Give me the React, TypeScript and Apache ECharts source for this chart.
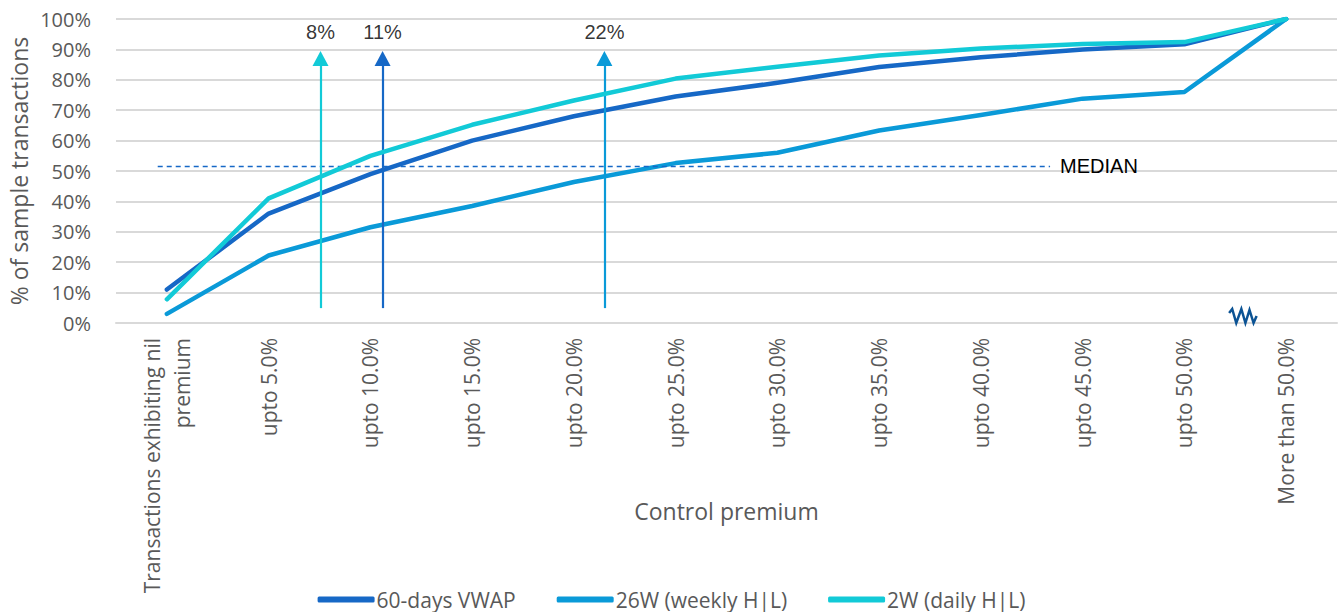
import React, { useEffect, useRef } from "react";
import * as echarts from "echarts";

const categories = [
  "Transactions exhibiting nil\npremium",
  "upto 5.0%",
  "upto 10.0%",
  "upto 15.0%",
  "upto 20.0%",
  "upto 25.0%",
  "upto 30.0%",
  "upto 35.0%",
  "upto 40.0%",
  "upto 45.0%",
  "upto 50.0%",
  "More than 50.0%",
];

const vwap60 = [11, 36, 49, 60, 68, 74.5, 79, 84.2, 87.4, 90, 91.7, 100];
const weekly26 = [3, 22.2, 31.5, 38.5, 46.4, 52.6, 56, 63.3, 68.4, 73.8, 76, 100];
const daily2 = [7.8, 41, 55, 65.2, 73.2, 80.4, 84.3, 88, 90.3, 91.8, 92.4, 100];

const seriesNames = ["60-days VWAP", "26W (weekly H|L)", "2W (daily H|L)"];
const colors = ["#1668C6", "#0A9AD8", "#12CAD7"];

// arrows: position on category scale (index units), label text
const arrowX = [1.51, 2.12, 4.3];
const arrowLabels = ["8%", "11%", "22%"];
const arrowColors = ["#12CAD7", "#1668C6", "#0A9AD8"];
const arrowBottom = 4.9;
const arrowTop = 87;
const arrowLabelY = 95.7;

const medianValue = 51.5;
const medianStart = -0.09;
const medianEnd = 8.68;

// axis-break squiggle decoration (index units, %)
const squiggleX = [10.44, 10.47, 10.51, 10.56, 10.6, 10.64, 10.68, 10.71];
const squiggleY = [3.3, 4.6, 0, 4.6, 0, 4.3, 0, 2.3];

const yTicks = [0, 10, 20, 30, 40, 50, 60, 70, 80, 90, 100];

export default function App() {
  const ref = useRef<HTMLDivElement>(null);
  useEffect(() => {
    document.body.style.margin = "0";
    const chart = echarts.init(ref.current!, undefined, { renderer: "svg" });
    const gray = "#595959";
    const font = "'Open Sans', sans-serif";
    const lineSeries = [vwap60, weekly26, daily2].map((d, i) => ({
      name: seriesNames[i],
      type: "line",
      data: d,
      symbol: "none",
      lineStyle: { color: colors[i], width: 4.5, cap: "round", join: "round" },
      itemStyle: { color: colors[i] },
      z: 3 + i,
    }));
    const arrowSeries = arrowX.map((x, i) => ({
      type: "line",
      xAxisIndex: 1,
      data: [],
      symbol: "none",
      z: 10,
      markLine: {
        silent: true,
        symbol: ["none", "triangle"],
        symbolSize: [16, 15],
        label: { show: false },
        lineStyle: { color: arrowColors[i], width: 2.2, type: "solid" },
        data: [[{ coord: [x, arrowBottom] }, { coord: [x, arrowTop] }]],
      },
    }));
    const arrowText = {
      type: "scatter",
      xAxisIndex: 1,
      symbolSize: 0,
      silent: true,
      z: 11,
      data: arrowX.map((x, i) => ({ value: [x, arrowLabelY], name: arrowLabels[i] })),
      label: {
        show: true,
        position: "inside",
        formatter: (p: any) => p.name,
        color: "#000",
        fontSize: 20,
        fontFamily: "'Liberation Sans', Arial, sans-serif",
      },
    };
    const medianSeries = {
      type: "line",
      xAxisIndex: 1,
      data: [],
      symbol: "none",
      z: 2,
      markLine: {
        silent: true,
        symbol: ["none", "none"],
        lineStyle: { color: "#1668C6", width: 1.3, type: [5, 4] },
        label: {
          show: true,
          position: "end",
          formatter: "MEDIAN",
          color: "#000",
          fontSize: 20,
          distance: 10,
          fontFamily: "'Liberation Sans', Arial, sans-serif",
        },
        data: [[{ coord: [medianStart, medianValue] }, { coord: [medianEnd, medianValue] }]],
      },
    };
    const squiggle = {
      type: "line",
      xAxisIndex: 1,
      data: squiggleX.map((x, i) => [x, squiggleY[i]]),
      symbol: "none",
      silent: true,
      clip: false,
      z: 6,
      lineStyle: { color: "#0B5394", width: 2.5, join: "miter" },
    };
    chart.setOption({
      animation: false,
      textStyle: { fontFamily: font },
      grid: { left: 116, right: 6, top: 19, bottom: 289, containLabel: false, outerBoundsMode: "none" },
      legend: {
        data: seriesNames,
        bottom: -3,
        left: "center",
        icon: "roundRect",
        itemWidth: 57,
        itemHeight: 6,
        itemGap: 41,
        textStyle: { color: gray, fontSize: 21, fontFamily: font, padding: [0, 0, 0, -3] },
      },
      xAxis: [
        {
          type: "category",
          data: categories,
          boundaryGap: true,
          axisLine: { show: true, lineStyle: { color: "#D9D9D9", width: 2 } },
          axisTick: { show: false },
          axisLabel: {
            rotate: 90,
            interval: 0,
            color: gray,
            fontSize: 21,
            margin: 15,
            fontFamily: font,
            lineHeight: 30,
          },
          name: "Control premium",
          nameLocation: "middle",
          nameGap: 176,
          nameMoveOverlap: false,
          nameTextStyle: { color: gray, fontSize: 23, fontFamily: font },
        },
        { type: "value", min: -0.5, max: 11.5, show: false },
      ],
      yAxis: {
        type: "value",
        min: 0,
        max: 100,
        interval: 10,
        axisLine: { show: false },
        axisTick: { show: false },
        splitLine: { lineStyle: { color: "#D9D9D9", width: 2 } },
        axisLabel: {
          formatter: (v: number) => (yTicks.includes(v) ? v + "%" : ""),
          color: gray,
          fontSize: 20,
          margin: 25,
          fontFamily: font,
        },
        name: "% of sample transactions",
        nameLocation: "middle",
        nameGap: 86,
        nameMoveOverlap: false,
        nameTextStyle: { color: gray, fontSize: 23, fontFamily: font },
      },
      series: [...lineSeries, medianSeries, ...arrowSeries, arrowText, squiggle],
    });
    return () => chart.dispose();
  }, []);
  return <div ref={ref} style={{ width: 1343, height: 612 }} />;
}
